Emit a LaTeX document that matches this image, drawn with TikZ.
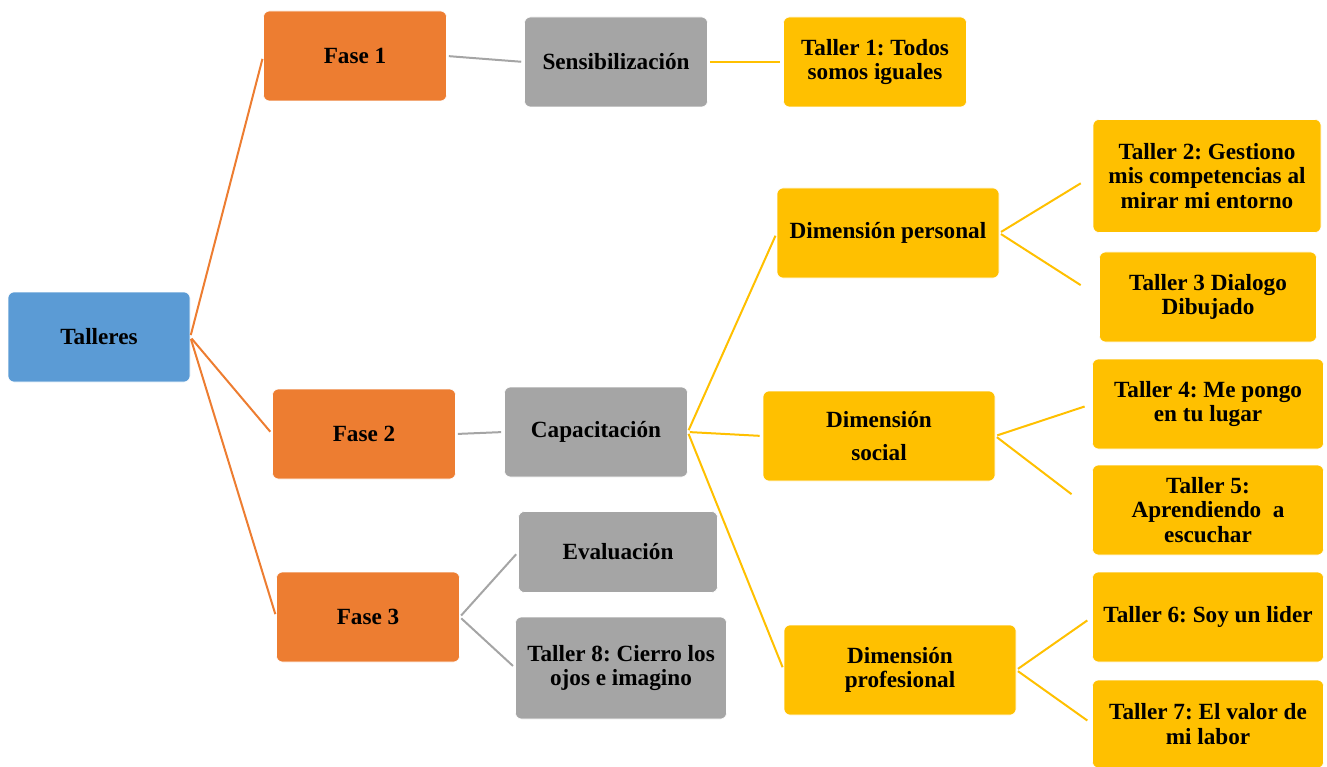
\documentclass[tikz,border=0pt]{standalone}
\usepackage{fontspec}
\setmainfont{Liberation Serif}
\usetikzlibrary{calc}
\frenchspacing

\definecolor{rootblue}{HTML}{5B9BD5}
\definecolor{phaseorange}{HTML}{ED7D31}
\definecolor{stagegray}{HTML}{A5A5A5}
\definecolor{workyellow}{HTML}{FFC000}

\begin{document}
\begin{tikzpicture}[
		x=1pt, y=-1pt, % pixel-like grid, y pointing down
		font=\fontsize{23.2}{24.5}\selectfont\bfseries,
		box/.style={rounded corners=6pt, inner sep=0pt, align=center,
			minimum width=183pt, minimum height=90pt, draw=white, line width=0.6pt},
		rootbox/.style={box, fill=rootblue},
		phasebox/.style={box, fill=phaseorange},
		stagebox/.style={box, fill=stagegray},
		workbox/.style={box, fill=workyellow},
		link/.style={line width=2pt, shorten <=2pt, shorten >=3pt},
		]
		
		\useasboundingbox (0,0) rectangle (1327,767);
		
		% --- 1. Root and Phases ---
		\node[rootbox, minimum width=182pt] (tal) at (99,337) {Talleres};
		\node[phasebox] (f1) at (355,56) {Fase 1};
		\node[phasebox] (f2) at (364,434) {Fase 2};
		\node[phasebox] (f3) at (368,617) {Fase 3};
		
		% --- 2. Stages ---
		\node[stagebox] (sens) at (616,62) {Sensibilizaci\'on};
		\node[stagebox] (cap) at (596,432) {Capacitaci\'on};
		\node[stagebox, minimum width=199pt, minimum height=81pt] (eval) at (618,552) {Evaluaci\'on};
		\node[stagebox, minimum width=211pt, minimum height=102pt] (t8) at (621,668) {Taller 8: Cierro los\\ojos e imagino};
		
		% --- 3. Dimensions ---
		\node[workbox] (t1) at (875,62) {Taller 1: Todos\\somos iguales};
		\node[workbox, minimum width=222pt] (dper) at (888,233) {Dimensi\'on personal};
		\node[workbox, minimum width=232pt] (dsoc) at (879,436) {Dimensi\'on\\[9pt]social};
		\node[workbox, minimum width=232pt] (dpro) at (900,670) {Dimensi\'on\\profesional};
		
		% --- 4. Workshops ---
		\node[workbox, minimum width=228pt, minimum height=113pt] (t2) at (1207,176) {Taller 2: Gestiono\\mis competencias al\\mirar mi entorno};
		\node[workbox, minimum width=217pt] (t3) at (1208,297) {Taller 3 Dialogo\\Dibujado};
		\node[workbox, minimum width=231pt] (t4) at (1208,404) {Taller 4: Me pongo\\en tu lugar};
		\node[workbox, minimum width=231pt] (t5) at (1208,510) {Taller 5:\\Aprendiendo~~a\\escuchar};
		\node[workbox, minimum width=231pt] (t6) at (1208,617) {Taller 6: Soy un lider};
		\node[workbox, minimum width=231pt, minimum height=88pt] (t7) at (1208,724) {Taller 7: El valor de\\mi labor};
		
		% --- 5. Connectors ---
		\draw[link, phaseorange] (tal.east) -- (f1.west);
		\draw[link, phaseorange] (tal.east) -- (f2.west);
		\draw[link, phaseorange] (tal.east) -- (f3.west);
		
		\draw[link, stagegray] (f1.east) -- (sens.west);
		\draw[link, stagegray] (f2.east) -- (cap.west);
		\draw[link, stagegray] (f3.east) -- (eval.west);
		\draw[link, stagegray] (f3.east) -- (t8.west);
		
		\draw[link, workyellow] (sens.east) -- (t1.west);
		\draw[link, workyellow] (cap.east) -- (dper.west);
		\draw[link, workyellow] (cap.east) -- (dsoc.west);
		\draw[link, workyellow] (cap.east) -- (dpro.west);
		
		\draw[link, workyellow, shorten >=14pt] (dper.east) -- (t2.west);
		\draw[link, workyellow, shorten >=22pt] (dper.east) -- (t3.west);
		\draw[link, workyellow, shorten >=8pt] (dsoc.east) -- (t4.west);
		\draw[link, workyellow, shorten >=26pt] (dsoc.east) -- (t5.west);
		\draw[link, workyellow, shorten >=6pt] (dpro.east) -- (t6.west);
		\draw[link, workyellow, shorten >=6pt] (dpro.east) -- (t7.west);
		
	\end{tikzpicture}
\end{document}
